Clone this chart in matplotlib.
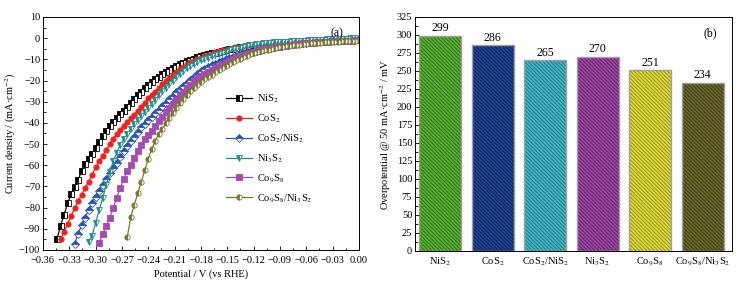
import matplotlib
matplotlib.use("Agg")
import matplotlib.pyplot as plt
from matplotlib.ticker import MultipleLocator, FuncFormatter

plt.rcParams['font.family'] = ['Liberation Serif', 'DejaVu Serif']
plt.rcParams['mathtext.fontset'] = 'stix'
plt.rcParams['hatch.linewidth'] = 0.7

##------------------------------------ data (a) LSV curves ------------------------------------
# potential sweep, V vs RHE (each curve uses the tail of this list)
potential = [-0.344, -0.340, -0.336, -0.332, -0.328, -0.324, -0.320, -0.316, -0.312, -0.308,
             -0.304, -0.300, -0.296, -0.292, -0.288, -0.284, -0.280, -0.276, -0.272, -0.268,
             -0.264, -0.260, -0.256, -0.252, -0.248, -0.244, -0.240, -0.236, -0.232, -0.228,
             -0.224, -0.220, -0.216, -0.212, -0.208, -0.204, -0.200, -0.196, -0.192, -0.188,
             -0.184, -0.180, -0.176, -0.172, -0.168, -0.164, -0.160, -0.156, -0.152, -0.148,
             -0.144, -0.140, -0.136, -0.132, -0.128, -0.124, -0.120, -0.116, -0.112, -0.108,
             -0.104, -0.100, -0.096, -0.092, -0.088, -0.084, -0.080, -0.076, -0.072, -0.068,
             -0.064, -0.060, -0.056, -0.052, -0.048, -0.044, -0.040, -0.036, -0.032, -0.028,
             -0.024, -0.020, -0.016, -0.012, -0.008, -0.004, 0.000]

j_nis2 = [-95.0, -88.5, -83.5, -78.0, -73.8, -70.2, -67.0, -62.6, -59.6, -57.0,
          -54.5, -51.8, -49.1, -46.4, -43.7, -41.5, -39.6, -37.8, -36.0, -34.4,
          -32.6, -30.5, -28.7, -27.0, -25.4, -23.7, -22.1, -20.7, -19.3, -18.1,
          -16.9, -15.8, -14.9, -14.0, -13.2, -12.4, -11.5, -10.8, -10.2, -9.7,
          -9.1, -8.6, -8.0, -7.6, -7.2, -6.9, -6.5, -6.1, -5.7, -5.3,
          -5.0, -4.6, -4.3, -4.0, -3.7, -3.4, -3.2, -3.0, -2.8, -2.6,
          -2.4, -2.3, -2.2, -2.0, -1.9, -1.8, -1.7, -1.6, -1.5, -1.4,
          -1.3, -1.2, -1.1, -1.0, -1.0, -0.9, -0.8, -0.8, -0.7, -0.7,
          -0.6, -0.6, -0.5, -0.5, -0.4, -0.4, -0.3]

j_cos2 = [-95.0, -91.5, -87.7, -84.0, -80.2, -77.0, -73.9, -70.8, -67.7,
          -64.4, -61.0, -58.1, -55.5, -52.8, -50.1, -47.5, -45.3, -43.4, -41.5,
          -39.7, -37.8, -36.1, -34.3, -32.4, -30.4, -28.4, -26.8, -25.2, -23.5,
          -21.8, -20.2, -18.8, -17.4, -16.1, -14.7, -13.4, -12.3, -11.4, -10.6,
          -9.9, -9.2, -8.5, -7.9, -7.3, -6.7, -6.2, -5.8, -5.4, -5.0,
          -4.6, -4.3, -4.0, -3.7, -3.4, -3.1, -2.9, -2.7, -2.5, -2.3,
          -2.2, -2.0, -1.9, -1.8, -1.7, -1.6, -1.5, -1.4, -1.3, -1.2,
          -1.1, -1.0, -1.0, -0.9, -0.8, -0.8, -0.7, -0.6, -0.6, -0.5,
          -0.5, -0.4, -0.4, -0.3, -0.3, -0.2, -0.2]

j_cos2_nis2 = [-97.0, -92.5, -88.3, -84.7, -81.2,
               -78.0, -75.0, -72.0, -69.1, -66.4, -63.8, -61.3, -58.7, -56.1, -53.4,
               -50.8, -48.6, -46.5, -44.3, -42.1, -40.4, -38.8, -37.1, -35.4, -33.8,
               -32.1, -30.5, -28.8, -27.1, -25.4, -24.0, -22.6, -21.2, -19.8, -18.4,
               -17.0, -15.7, -14.7, -13.7, -12.8, -12.1, -11.3, -10.6, -10.0, -9.4,
               -8.8, -8.2, -7.7, -7.2, -6.8, -6.3, -5.9, -5.6, -5.2, -4.9,
               -4.6, -4.3, -4.0, -3.8, -3.5, -3.3, -3.1, -2.9, -2.7, -2.5,
               -2.3, -2.1, -2.0, -1.8, -1.7, -1.5, -1.4, -1.3, -1.2, -1.0,
               -0.9, -0.8, -0.7, -0.6, -0.5, -0.4, -0.3]

j_ni3s2 = [-96.0, -93.2, -87.1, -81.2, -75.4, -69.5, -63.4, -58.2, -54.2, -50.3, -47.8,
           -45.4, -43.0, -40.6, -38.6, -36.8, -35.0, -33.2, -31.2, -29.1, -27.0,
           -25.0, -23.3, -21.6, -20.0, -18.5, -17.0, -15.5, -14.1, -13.0, -12.2,
           -11.3, -10.5, -9.8, -9.2, -8.6, -7.9, -7.3, -6.8, -6.3, -5.8,
           -5.3, -4.9, -4.5, -4.1, -3.7, -3.4, -3.1, -2.9, -2.7, -2.5,
           -2.3, -2.2, -2.0, -1.9, -1.8, -1.7, -1.6, -1.5, -1.4, -1.3,
           -1.2, -1.1, -1.0, -0.9, -0.8, -0.8, -0.7, -0.6, -0.5, -0.5,
           -0.4, -0.3, -0.3, -0.2, -0.1, -0.1, 0.0]

j_co9s8 = [-96.5, -92.5, -88.6, -84.8, -80.4, -75.3, -70.7, -66.5,
           -62.7, -59.8, -56.6, -53.4, -50.4, -47.4, -45.5, -43.6, -41.6, -39.3,
           -37.0, -34.9, -33.0, -31.1, -29.2, -27.2, -25.3, -23.6, -21.9, -20.3,
           -19.0, -18.0, -16.9, -15.9, -15.0, -14.0, -13.1, -12.3, -11.5, -10.6,
           -9.8, -9.1, -8.5, -7.9, -7.4, -6.9, -6.4, -6.0, -5.6, -5.2,
           -4.9, -4.6, -4.3, -4.0, -3.7, -3.5, -3.3, -3.1, -2.9, -2.7,
           -2.5, -2.4, -2.2, -2.1, -2.0, -1.8, -1.7, -1.6, -1.5, -1.4,
           -1.3, -1.3, -1.2, -1.1, -1.1, -1.0, -1.0]

j_co9s8_ni3s2 = [-94.0, -84.5, -78.7, -73.2, -67.9, -62.2, -56.9, -52.4, -48.4, -45.2,
                 -42.7, -40.1, -37.7, -35.3, -33.0, -30.6, -28.6, -26.8, -24.9, -23.3,
                 -22.0, -20.7, -19.4, -18.3, -17.2, -16.1, -15.0, -14.1, -13.2, -12.3,
                 -11.4, -10.5, -9.7, -9.0, -8.3, -7.7, -7.2, -6.7, -6.2, -5.8,
                 -5.4, -5.0, -4.7, -4.4, -4.1, -3.8, -3.6, -3.4, -3.2, -3.0,
                 -2.8, -2.6, -2.5, -2.3, -2.2, -2.1, -2.0, -1.9, -1.8, -1.7,
                 -1.6, -1.5, -1.5, -1.4, -1.4, -1.3, -1.3]

##------------------------------------ data (b) overpotential ------------------------------------
samples = [r'NiS$_2$', r'CoS$_2$', r'CoS$_2$/NiS$_2$', r'Ni$_3$S$_2$', r'Co$_9$S$_8$',
           r'Co$_9$S$_8$/Ni$_3$S$_2$']
overpotential = [299, 286, 265, 270, 251, 234]

bar_colors = ['#5db534', '#1f4592', '#46bccb', '#a24aa6', '#e3e040', '#6e6a2e']
hatch_colors = ['#2f6a16', '#0e2459', '#1d7482', '#5e1f62', '#8b8a12', '#3a3712']


def minus_fmt(fmt):
    return FuncFormatter(lambda v, pos: (fmt % v).replace('-', '\u2212'))


fig = plt.figure(figsize=(7.46, 2.86), dpi=100)

##------------------------------------ (a) ------------------------------------
ax1 = fig.add_axes([0.0576, 0.1259, 0.4236, 0.8147])

curves = [
    (j_nis2, r'NiS$_2$', '#000000', 's', 'left'),
    (j_cos2, r'CoS$_2$', '#f0201c', 'o', 'full'),
    (j_cos2_nis2, r'CoS$_2$/NiS$_2$', '#2a55b0', 'D', 'top'),
    (j_ni3s2, r'Ni$_3$S$_2$', '#1c8e89', 'v', 'left'),
    (j_co9s8, r'Co$_9$S$_8$', '#a64ab2', 's', 'full'),
    (j_co9s8_ni3s2, r'Co$_9$S$_8$/Ni$_3$S$_2$', '#78782a', 'o', 'left'),
]
for cur, lab, col, mk, fs in curves:
    ax1.plot(potential[-len(cur):], cur, color=col, lw=0.9, marker=mk, markersize=3.8,
             fillstyle=fs, markerfacecoloralt='white', markeredgecolor=col,
             markeredgewidth=0.6, label=lab)

ax1.set_xlim(-0.36, 0.0)
ax1.set_ylim(-100, 10)
ax1.xaxis.set_major_locator(MultipleLocator(0.03))
ax1.xaxis.set_minor_locator(MultipleLocator(0.015))
ax1.yaxis.set_major_locator(MultipleLocator(10))
ax1.yaxis.set_minor_locator(MultipleLocator(5))
ax1.xaxis.set_major_formatter(minus_fmt('%.2f'))
ax1.yaxis.set_major_formatter(minus_fmt('%d'))
ax1.tick_params(which='both', direction='in', labelsize=7.5, width=0.6)
ax1.tick_params(axis='y', pad=2)
ax1.tick_params(axis='x', pad=4.5)
ax1.tick_params(which='major', length=3)
ax1.tick_params(which='minor', length=1.8)
ax1.set_xlabel('Potential / V (vs RHE)', fontsize=7.5, labelpad=3)
ax1.set_ylabel('Current density / (mA\u00b7cm$^{-2}$)', fontsize=7.5, labelpad=1)
ax1.text(0.93, 0.93, '(a)', transform=ax1.transAxes, fontsize=8.5, ha='center', va='center')
ax1.legend(loc='center left', bbox_to_anchor=(0.55, 0.435), frameon=False, fontsize=7.5,
           handlelength=2.5, labelspacing=0.72, handletextpad=0.5)
for s in ax1.spines.values():
    s.set_linewidth(0.7)

##------------------------------------ (b) ------------------------------------
ax2 = fig.add_axes([0.5563, 0.1224, 0.4249, 0.8182])
x = range(len(samples))
for i in x:
    ax2.bar(i, overpotential[i], width=0.8, color=bar_colors[i], edgecolor=hatch_colors[i],
            linewidth=0, hatch='\\' * 9)
p = ax2.bar(x, overpotential, width=0.8, fill=False, edgecolor='#a0a0a0', linewidth=1.0)
ax2.bar_label(p, fmt='%d', fontsize=8.5, padding=1)

ax2.set_xlim(-0.476, 5.56)
ax2.set_ylim(0, 325)
ax2.set_xticks(list(x))
ax2.set_xticklabels(samples)
ax2.yaxis.set_major_locator(MultipleLocator(25))
ax2.yaxis.set_minor_locator(MultipleLocator(12.5))
ax2.tick_params(which='both', direction='in', labelsize=7.5, width=0.6, pad=2)
ax2.tick_params(axis='x', length=0, pad=3)
ax2.tick_params(which='major', axis='y', length=3)
ax2.tick_params(which='minor', axis='y', length=1.8)
ax2.set_ylabel('Overpotential @ 50 mA\u00b7cm$^{-2}$ / mV', fontsize=7.5, labelpad=3)
ax2.text(0.93, 0.93, '(b)', transform=ax2.transAxes, fontsize=8.5, ha='center', va='center')
for s in ax2.spines.values():
    s.set_linewidth(0.7)

fig.savefig('out.png', dpi=100)
